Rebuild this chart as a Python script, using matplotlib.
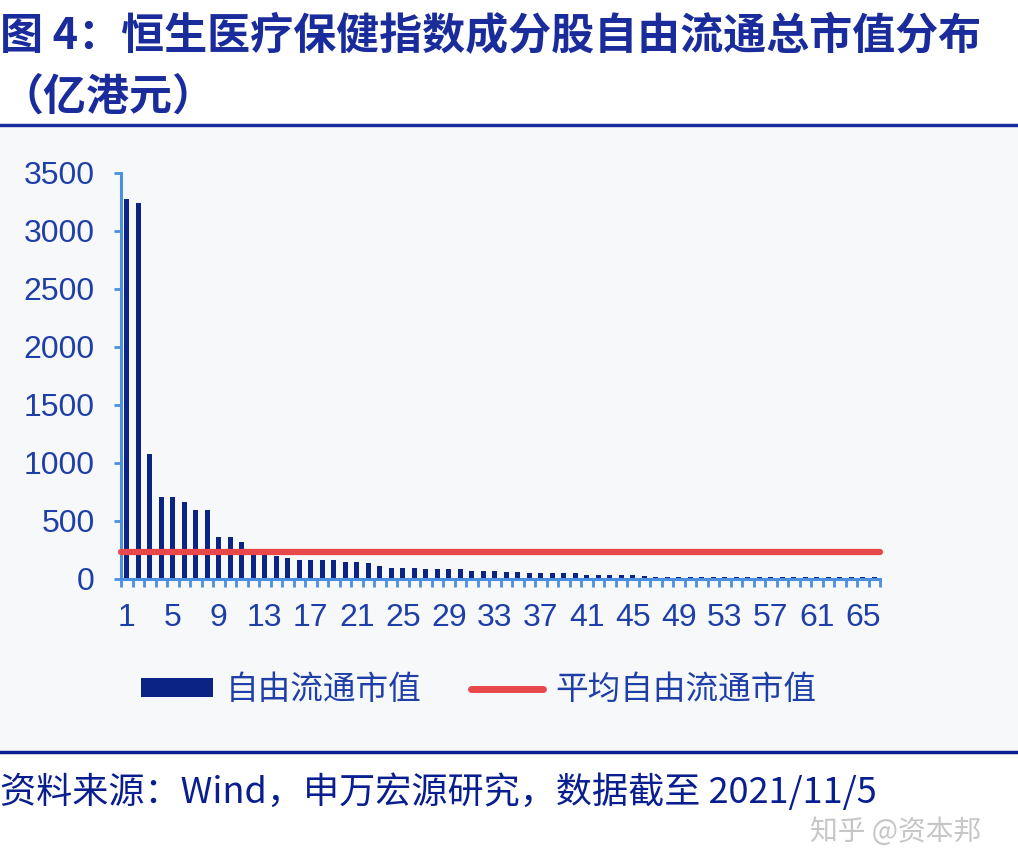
#恒生医疗保健指数成分股自由流通总市值分布 (亿港元)

import numpy as np
import matplotlib.pyplot as plt
from matplotlib.patches import Patch, Rectangle
from matplotlib.lines import Line2D

plt.rcParams['font.family'] = ['Liberation Sans', 'Noto Sans CJK SC', 'DejaVu Sans']

# datos (66 acciones, ordenadas de mayor a menor)
acciones = np.arange(1, 67)
valores = np.array([
    3273, 3244, 1075, 710, 710, 664, 595, 595, 365, 365,
    316, 235, 210, 200, 178, 164, 164, 164, 164, 150,
    150, 135, 115, 98, 98, 98, 84, 84, 84, 84,
    66, 66, 66, 63, 63, 49, 49, 49, 49, 49,
    35, 35, 35, 35, 35, 22, 20, 20, 15, 15,
    15, 15, 15, 15, 15, 15, 15, 15, 15, 15,
    15, 15, 15, 14, 14, 14])
promedio = valores.mean()
etiquetas_x = list(range(1, 67, 4))
etiquetas_y = list(range(0, 3501, 500))

azul_eje = '#4a8fe0'
azul_texto = '#1f3fa8'
azul_barra = '#0b2385'
rojo = '#e9484b'
cjk = ['Noto Sans CJK SC', 'DejaVu Sans']

fig = plt.figure(figsize=(10.18, 8.52), dpi=100)
fig.patch.set_facecolor('white')

# fondo gris claro de la zona del grafico
fondo = Rectangle((0, 1 - 750/852), 1, (750-128)/852, transform=fig.transFigure,
                  facecolor='#f7f8fa', edgecolor='none', zorder=-5)
fig.add_artist(fondo)

ax = fig.add_axes([121/1018, 1 - 579/852, (880-121)/1018, (579-173)/852])
ax.set_facecolor('none')
ax.set_zorder(2)

ax.bar(acciones, valores, width=0.4, color=azul_barra, zorder=2)
ax.plot([acciones[0] - 0.5, acciones[-1] + 0.5], [promedio, promedio],
        color=rojo, lw=4.5, solid_capstyle='round', zorder=3, clip_on=False)

ax.set_xlim(0.5, 66.5)
ax.set_ylim(0, 3500)
ax.set_xticks(etiquetas_x)
ax.set_xticklabels([str(v) for v in etiquetas_x])
ax.set_xticks(np.arange(0.5, 67, 1), minor=True)
ax.set_yticks(etiquetas_y)

for lado in ['top', 'right']:
    ax.spines[lado].set_visible(False)
for lado in ['left', 'bottom']:
    ax.spines[lado].set_color(azul_eje)
    ax.spines[lado].set_linewidth(2.2)

ax.tick_params(axis='x', which='major', length=0, pad=17, labelsize=23, labelcolor=azul_texto)
ax.tick_params(axis='x', which='minor', length=6, width=2, color=azul_eje, direction='out')
ax.tick_params(axis='y', length=5, width=2, color=azul_eje, pad=14, labelsize=23, labelcolor=azul_texto)

# titulo
fig.text(0.0, 1 - 36/852, '图 4：恒生医疗保健指数成分股自由流通总市值分布', fontsize=31,
         fontweight='heavy', color='#1a2c9c', va='center', ha='left', family=cjk)
fig.text(0.0, 1 - 97/852, '（亿港元）', fontsize=31, fontweight='heavy', color='#1a2c9c',
         va='center', ha='left', family=cjk)
fig.add_artist(Line2D([0, 1], [1 - 125/852, 1 - 125/852], color='#1a2c9c', lw=2.5))

# leyenda
manejadores = [Patch(facecolor=azul_barra, edgecolor='none'),
               Line2D([0], [0], color=rojo, lw=5, solid_capstyle='round')]
fig.legend(manejadores, ['自由流通市值', '平均自由流通市值'], loc='center',
           bbox_to_anchor=(479/1018, 1 - 690/852), ncol=2, frameon=False,
           labelcolor=azul_texto, handlelength=2.2, handleheight=0.5,
           handletextpad=0.4, columnspacing=1.5,
           prop={'family': cjk, 'size': 23.5})

fig.add_artist(Line2D([0, 1], [1 - 752/852, 1 - 752/852], color='#0a1f8f', lw=2.5))

# fuente
fig.text(0.0, 1 - 792/852, '资料来源：Wind，申万宏源研究，数据截至 2021/11/5', fontsize=26,
         color='#0a1f8f', va='center', ha='left', family=cjk)
# marca de agua (un poco mas abajo para no tapar la fuente)
fig.text(810/1018, 1 - 832/852, '知乎 @资本邦', fontsize=20, color='#b8b8b8', alpha=0.8,
         va='center', ha='left', family=cjk, zorder=5)

fig.savefig('out.png', dpi=100, facecolor=fig.get_facecolor())
